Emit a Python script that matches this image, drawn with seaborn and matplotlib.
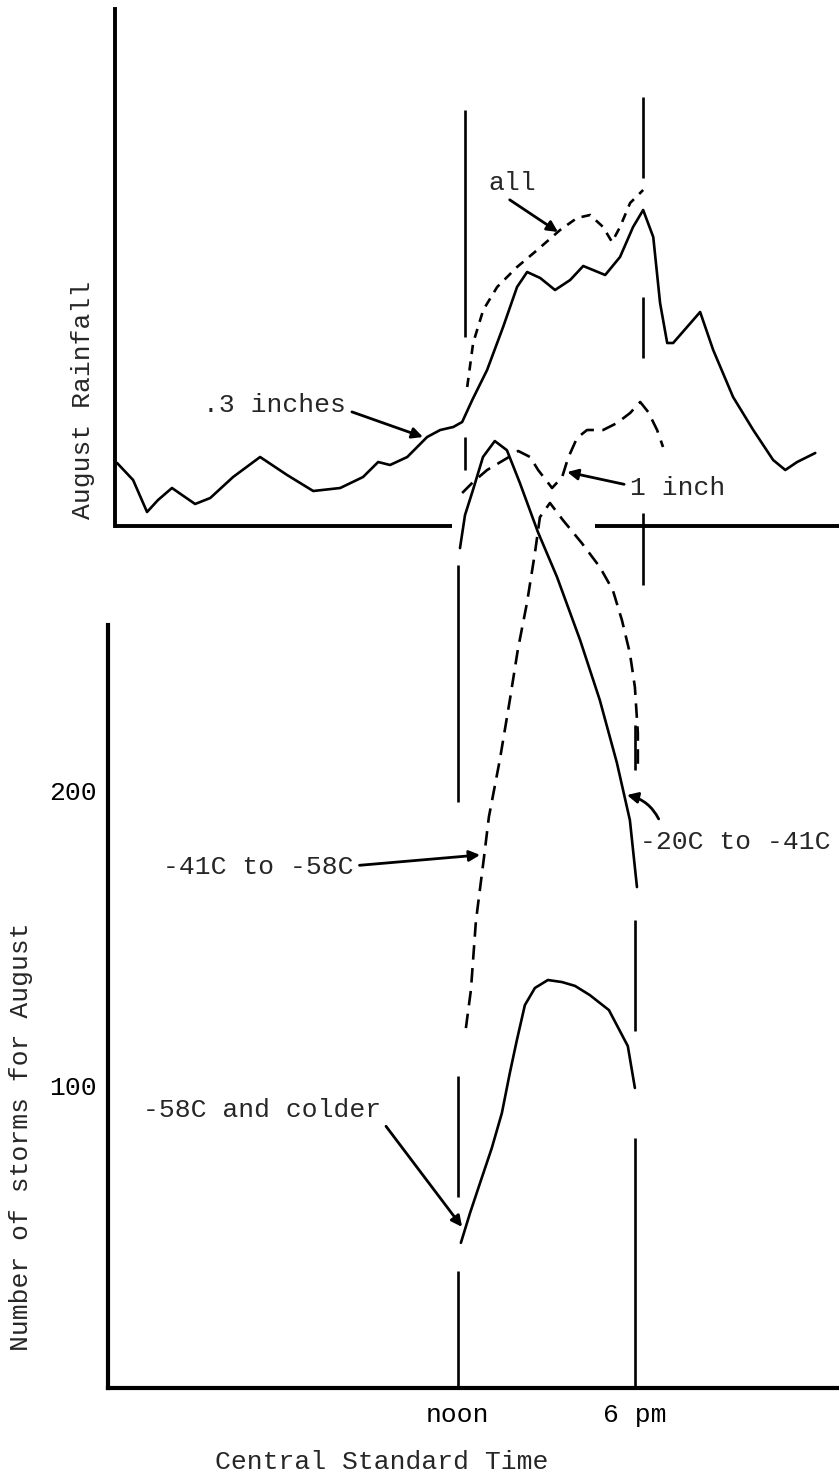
import matplotlib
matplotlib.use("Agg")
import matplotlib.pyplot as plt
import seaborn as sns

# ---- top panel: August rainfall (hour CST, relative frequency units) ----
hours_03 = [0.27, 0.81, 1.28, 1.65, 2.12, 2.46, 2.90, 3.41, 4.18, 5.09, 6.00, 6.88,
            7.79, 8.56, 9.07, 9.47, 10.05, 10.72, 11.16, 11.60, 11.90, 12.24, 12.74,
            13.28, 13.75, 14.09, 14.53, 15.03, 15.54, 15.98, 16.31, 16.72, 17.22,
            17.66, 18.00, 18.34, 18.57, 18.81, 19.01, 19.48, 19.92, 20.36, 21.03,
            21.71, 22.38, 22.79, 23.19, 23.80]
rain_03 = [12.6, 9.2, 2.8, 5.2, 7.6, 6.2, 4.4, 5.6, 9.8, 13.8, 10.2, 7.0,
           7.6, 9.8, 12.8, 12.2, 13.8, 17.8, 19.2, 19.8, 20.8, 25.2, 31.2,
           39.8, 47.8, 50.8, 49.6, 47.2, 49.2, 52.0, 51.2, 50.2, 53.8,
           59.8, 63.2, 57.8, 44.6, 36.6, 36.6, 39.8, 42.8, 35.2, 25.8,
           19.2, 13.2, 11.2, 12.8, 14.6]

hours_all = [12.07, 12.27, 12.61, 13.08, 13.75, 14.43, 15.20, 15.77, 16.21, 16.65,
             16.95, 17.22, 17.56, 18.00]
rain_all = [27.8, 36.6, 43.2, 47.8, 51.8, 55.2, 59.2, 61.6, 62.2, 59.8,
            56.8, 59.8, 64.6, 67.2]

hours_1in = [11.90, 12.27, 12.74, 13.42, 13.79, 14.19, 14.46, 14.93, 15.27, 15.47,
             15.77, 16.11, 16.65, 17.12, 17.56, 17.90, 18.17, 18.47, 18.67]
rain_1in = [6.6, 8.8, 11.2, 13.6, 15.0, 13.8, 11.2, 7.6, 9.8, 13.6,
            17.6, 19.2, 19.2, 20.6, 22.6, 24.8, 22.8, 19.2, 15.8]

# ---- bottom panel: number of storms for August by cloud-top temperature ----
hours_20_41 = [12.07, 12.24, 12.51, 12.85, 13.25, 13.66, 14.10, 14.71, 15.36,
               16.14, 16.81, 17.39, 17.83, 18.07]
storms_20_41 = [282.0, 293.2, 301.7, 312.9, 318.3, 315.2, 304.1, 287.5, 272.2,
                250.9, 230.5, 209.2, 189.8, 167.1]

hours_41_58 = [12.27, 12.44, 12.61, 12.88, 13.05, 13.42, 13.76, 14.03, 14.34,
               14.61, 14.78, 15.12, 15.56, 16.20, 16.81, 17.25, 17.56, 17.83,
               18.00, 18.10, 18.10]
storms_41_58 = [119.3, 132.2, 155.6, 176.9, 190.9, 210.2, 230.5, 247.5, 263.4,
                280.3, 292.5, 297.3, 291.5, 283.7, 275.6, 267.8, 257.6, 246.4,
                234.9, 219.3, 206.8]

hours_58 = [12.10, 12.41, 12.75, 13.15, 13.49, 13.76, 14.00, 14.27, 14.61, 15.05,
            15.53, 15.97, 16.47, 17.12, 17.76, 18.00]
storms_58 = [46.5, 56.6, 66.8, 78.7, 90.5, 104.1, 115.3, 127.1, 132.9, 135.6,
             134.9, 133.6, 130.5, 125.4, 113.2, 99.0]

time_ticks = [12, 18]
time_labels = ["noon", "6 pm"]
storm_ticks = [100, 200]
storm_labels = ["100", "200"]

# broken guide lines at noon and 6 pm (start, end in each panel's units)
noon_top = [(83.2, 37.8), (17.8, 11.2)]
six_top = [(85.8, 69.6), (45.8, 33.6), (2.6, -11.8)]
noon_bot = [(276.3, 195.9), (103.1, 62.1), (37.0, -2.7)]
six_bot = [(222.0, 206.8), (155.9, 118.3), (82.0, -2.7)]
# rainfall axis drawn in two pieces
rain_axis = [(0.2, 11.56), (16.38, 24.6)]

sns.set_theme(style="white")
plt.rcParams["font.family"] = ["Liberation Mono", "DejaVu Sans"]
plt.rcParams["font.size"] = 19

fig = plt.figure(figsize=(8.39, 14.76), dpi=100, facecolor="white")
ax_bot = fig.add_axes([108 / 839, 88 / 1476, 731 / 839, 1388 / 1476])
ax_top = fig.add_axes([115 / 839, 950 / 1476, 724 / 839, 526 / 1476])
ax_top.patch.set_alpha(0)

line_kw = dict(color="black", linewidth=1.9, estimator=None, sort=False, legend=False,
               solid_joinstyle="round", dash_joinstyle="round")
long_dash = (0, (5.5, 3.2))

# rainfall curves
sns.lineplot(x=hours_03, y=rain_03, ax=ax_top, **line_kw)
sns.lineplot(x=hours_all, y=rain_all, ax=ax_top, linestyle=(0, (3.5, 2.8)), **line_kw)
sns.lineplot(x=hours_1in, y=rain_1in, ax=ax_top, linestyle=long_dash, **line_kw)

# storm curves
sns.lineplot(x=hours_20_41, y=storms_20_41, ax=ax_bot, **line_kw)
sns.lineplot(x=hours_41_58, y=storms_41_58, ax=ax_bot, linestyle=long_dash, **line_kw)
sns.lineplot(x=hours_58, y=storms_58, ax=ax_bot, **line_kw)

for y0, y1 in noon_top:
    ax_top.vlines(time_ticks[0], y0, y1, color="black", lw=1.9, clip_on=False)
for y0, y1 in six_top:
    ax_top.vlines(time_ticks[1], y0, y1, color="black", lw=1.9, clip_on=False)
for y0, y1 in noon_bot:
    ax_bot.vlines(time_ticks[0], y0, y1, color="black", lw=1.9)
for y0, y1 in six_bot:
    ax_bot.vlines(time_ticks[1], y0, y1, color="black", lw=1.9)
for x0, x1 in rain_axis:
    ax_top.hlines(0, x0, x1, color="black", lw=2.8, clip_on=False)

# axes styling
ax_top.set_xlim(0.2, 24.6)
ax_top.set_ylim(0, 105.2)
for side in ["top", "right", "bottom"]:
    ax_top.spines[side].set_visible(False)
ax_top.spines["left"].set_bounds(0, 103.4)
ax_top.spines["left"].set_linewidth(2.8)
ax_top.spines["left"].set_color("black")
ax_top.set_xticks([])
ax_top.set_yticks([])
ax_top.set_ylabel("August Rainfall", fontsize=19)
ax_top.yaxis.set_label_coords(-0.028, 0.24)

ax_bot.set_xlim(0.136, 24.92)
ax_bot.set_ylim(-2.7, 467.8)
for side in ["top", "right"]:
    ax_bot.spines[side].set_visible(False)
ax_bot.spines["left"].set_bounds(-2.7, 255.9)
for side in ["left", "bottom"]:
    ax_bot.spines[side].set_linewidth(3.0)
    ax_bot.spines[side].set_color("black")
ax_bot.set_xticks(time_ticks, time_labels)
ax_bot.set_yticks(storm_ticks, storm_labels)
ax_bot.tick_params(axis="x", length=0, pad=11, labelsize=19, colors="black")
ax_bot.tick_params(axis="y", direction="in", length=4, width=4.5, pad=8,
                   labelsize=19, colors="black")
ax_bot.set_xlabel("Central Standard Time", fontsize=19)
ax_bot.xaxis.set_label_coords(0.375, -0.045)
ax_bot.set_ylabel("Number of storms for August", fontsize=19)
ax_bot.yaxis.set_label_coords(-0.103, 0.181)

arrow_kw = dict(arrowstyle="-|>", color="black", lw=2.0, mutation_scale=16,
                shrinkA=2, shrinkB=0)

ax_top.annotate(".3 inches", xy=(10.58, 17.8), xytext=(3.17, 24.2),
                ha="left", va="center", arrowprops=dict(arrow_kw, relpos=(1, 0.3)))
ax_top.annotate("all", xy=(15.13, 58.8), xytext=(13.58, 68.6),
                ha="center", va="center", arrowprops=dict(arrow_kw, relpos=(0.3, 0)))
ax_top.annotate("1 inch", xy=(15.44, 10.8), xytext=(17.56, 7.6),
                ha="left", va="center", arrowprops=dict(arrow_kw, relpos=(0, 0.6)))

ax_bot.annotate("-41C to -58C", xy=(12.75, 178.0), xytext=(2.0, 173.9),
                ha="left", va="center", arrowprops=dict(arrow_kw, relpos=(1, 0.55)))
ax_bot.annotate("-20C to -41C", xy=(17.73, 198.3), xytext=(18.17, 182.4),
                ha="left", va="center",
                arrowprops=dict(arrow_kw, relpos=(0.12, 1), shrinkA=6,
                                connectionstyle="arc3,rad=0.3"))
ax_bot.annotate("-58C and colder", xy=(12.14, 51.9), xytext=(1.32, 91.5),
                ha="left", va="center", arrowprops=dict(arrow_kw, relpos=(1, 0.1)))

fig.savefig("out.png", dpi=100, facecolor="white")
